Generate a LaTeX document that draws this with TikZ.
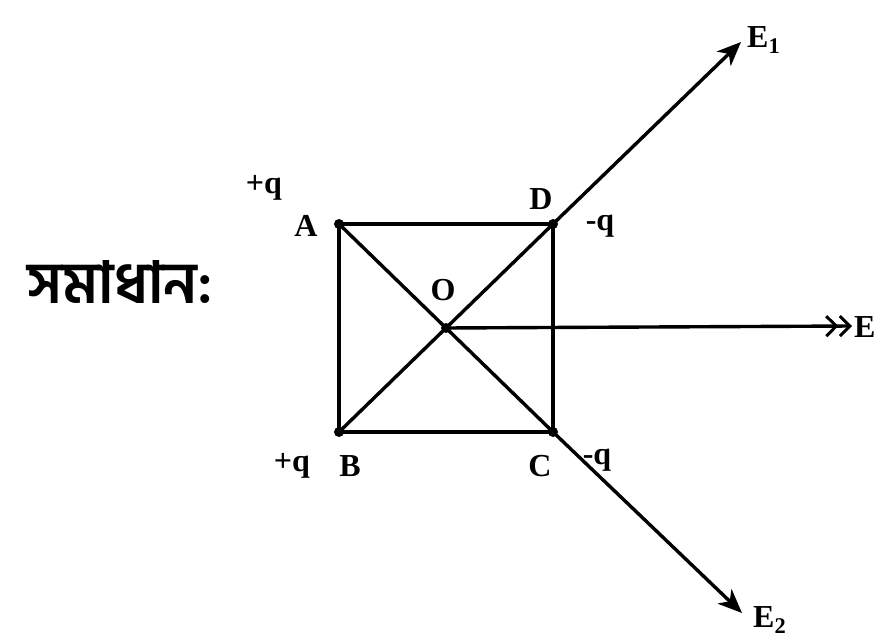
\documentclass[tikz,border=0pt]{standalone}
\usepackage{fontspec}
\setmainfont{Liberation Serif}
\newfontfamily\bengalifont[Script=Bengali]{Hind Siliguri}
\usetikzlibrary{arrows.meta, positioning, calc}

\tikzset{
  charge/.style={circle, fill=black, inner sep=0pt, minimum size=10pt},
  lbl/.style={font=\fontsize{32}{34}\selectfont\bfseries, inner sep=1pt},
  field/.style={line width=3.4pt, -{Stealth[length=24pt, width=20pt, inset=7pt]}},
  side/.style={line width=3.4pt}
}

\begin{document}
\begin{tikzpicture}[x=1pt, y=-1pt]
  \useasboundingbox (0,0) rectangle (883,644);
  % corners of the square and centre
  \coordinate (A) at (339,224);
  \coordinate (D) at (553,224);
  \coordinate (B) at (339,432);
  \coordinate (C) at (553,432);
  \coordinate (O) at (446,328);
  % tips of the field vectors
  \coordinate (E1) at (741,42);
  \coordinate (E2) at (742,613);
  \coordinate (E) at (852,326);
  % square and diagonals
  \draw[side] (A) -- (D) -- (C) -- (B) -- cycle;
  \draw[side] (A) -- (C);
  \draw[side] (B) -- (D);
  % field vectors
  \draw[field] (D) -- (E1);
  \draw[field] (C) -- (E2);
  \draw[line width=3.4pt, -{Straight Barb[length=10pt, width=20pt, line width=3pt] Straight Barb[length=10pt, width=20pt, line width=3pt]}] (O) -- (E);
  % charges
  \foreach \p in {A, B, C, D, O}
    \node[charge] at (\p) {};
  % labels
  \node[lbl] (qA) at (264,188) {+q};
  \node[lbl] (lA) at (306,226) {A};
  \node[lbl] (lD) at (541,199) {D};
  \node[lbl] (qD) at (600,226) {-q};
  \node[lbl] (lO) at (443,290) {O};
  \node[lbl] (qB) at (292,466) {+q};
  \node[lbl] (lB) at (350,466) {B};
  \node[lbl] (lC) at (540,466) {C};
  \node[lbl] (qC) at (597,460) {-q};
  \node[lbl, anchor=west] (lE1) at (746,40) {E$_\mathbf{1}$};
  \node[lbl, anchor=west] (lE2) at (752,620) {E$_\mathbf{2}$};
  \node[lbl, anchor=west] (lE) at (853,327) {E};
  % heading
  \node[font=\bengalifont\fontsize{58}{60}\selectfont\bfseries, anchor=west] (sol) at (24,282) {সমাধান:};
\end{tikzpicture}
\end{document}
